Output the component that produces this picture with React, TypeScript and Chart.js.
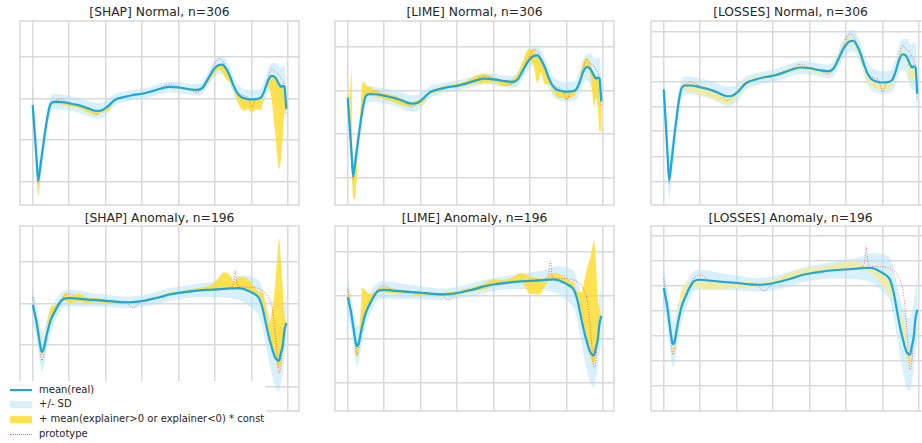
import React, { useEffect, useRef } from "react";
import { Chart, registerables } from "chart.js";

Chart.register(...registerables);

// ---------------- data ----------------
const X_TICKS = [0, 20, 40, 60, 80, 100, 120, 140];
const Y_TICKS_STEP2 = [-4, -2, 0, 2];
const Y_TICKS_STEP1 = [-4, -3, -2, -1, 0, 1, 2];

const PANEL_TITLES = [
  "[SHAP] Normal, n=306",
  "[LIME] Normal, n=306",
  "[LOSSES] Normal, n=306",
  "[SHAP] Anomaly, n=196",
  "[LIME] Anomaly, n=196",
  "[LOSSES] Anomaly, n=196",
];

const LEGEND_LABELS = [
  "mean(real)",
  "+/- SD",
  "+ mean(explainer>0 or explainer<0) * const",
  "prototype",
];

// Normal class
const NORMAL_X = [0, 1, 2, 3, 4, 5, 6, 7, 8, 9, 10, 12, 15, 20, 25, 30, 35, 38, 41, 45, 50, 55, 60, 65, 70, 75, 80, 85, 90, 93, 96, 99, 102, 104, 106, 108, 110, 112, 114, 116, 118, 120, 122, 125, 127, 129, 131, 133, 134, 135, 136, 137, 138, 139];
const NORMAL_MEAN = [-0.33, -1.5, -2.75, -3.95, -3.4, -2.75, -2.1, -1.5, -0.95, -0.5, -0.25, -0.17, -0.17, -0.24, -0.33, -0.47, -0.6, -0.57, -0.4, -0.08, 0.06, 0.16, 0.22, 0.33, 0.46, 0.55, 0.52, 0.45, 0.4, 0.5, 0.92, 1.36, 1.6, 1.62, 1.42, 1.08, 0.62, 0.27, 0.08, 0.0, -0.04, -0.05, -0.04, 0.03, 0.36, 0.85, 1.08, 1.0, 0.85, 0.68, 0.55, 0.6, 0.55, -0.5];
const NORMAL_SD = [0.8, 0.8, 0.8, 0.7, 0.7, 0.6, 0.55, 0.5, 0.45, 0.4, 0.38, 0.36, 0.35, 0.35, 0.36, 0.37, 0.38, 0.37, 0.33, 0.28, 0.25, 0.24, 0.24, 0.24, 0.25, 0.26, 0.26, 0.26, 0.27, 0.3, 0.35, 0.4, 0.42, 0.42, 0.42, 0.42, 0.42, 0.44, 0.45, 0.45, 0.45, 0.45, 0.45, 0.45, 0.5, 0.55, 0.6, 0.7, 0.78, 0.85, 0.9, 0.95, 1.0, 1.0];
const NORMAL_PROTO = [-0.35, -1.55, -2.85, -4.1, -3.45, -2.8, -2.1, -1.5, -0.9, -0.45, -0.2, -0.12, -0.02, -0.2, -0.3, -0.42, -0.78, -0.55, -0.35, -0.05, 0.08, 0.15, 0.25, 0.35, 0.5, 0.68, 0.55, 0.45, 0.28, 0.5, 1.0, 1.5, 1.9, 1.8, 1.48, 1.1, 0.7, 0.32, 0.18, 0.12, 0.02, -0.42, -0.08, 0.08, 0.4, 1.0, 1.45, 1.25, 1.2, 1.15, 0.95, 0.85, 0.55, -0.75];

const SHAP_N_UP = [0, 0, 0, 0, 0, 0.2, 0.3, 0.3, 0.25, 0.1, 0, 0.05, 0.05, 0, 0, 0, 0.02, 0.05, 0, 0, 0, 0.03, 0, 0.03, 0, 0.05, 0, 0, 0, 0, 0, 0, 0, 0, 0, 0, 0, 0, 0, 0, 0, 0, 0, 0, 0, 0, 0, 0, 0, 0, 0, 0, 0, 0];
const SHAP_N_LO = [0, 0, -0.2, -0.7, -0.4, 0, 0, 0, 0, 0, -0.1, -0.1, -0.12, -0.15, -0.12, -0.2, -0.2, -0.1, -0.25, -0.05, -0.05, -0.03, -0.05, -0.03, -0.05, -0.05, -0.05, -0.05, -0.08, -0.12, -0.2, -0.25, -0.2, -0.4, -0.5, -0.3, -0.15, -0.35, -0.55, -0.6, -0.45, -0.65, -0.5, -0.6, -0.2, -0.3, -1.2, -2.8, -3.6, -4.1, -3.5, -2.5, -1.2, 0];
const LIME_N_UP = [0.3, 1.2, 3.7, 0.5, 0, 0, 0.2, 0.6, 1.3, 0.9, 0.5, 0.35, 0.2, 0.1, 0.12, 0.08, 0.05, 0.12, 0.05, 0.05, 0.08, 0.1, 0.1, 0.12, 0.2, 0.2, 0.1, 0.05, 0.12, 0.3, 0.45, 0.55, 0.3, 0, 0, 0, 0, 0, 0, 0, 0, 0, 0, 0.05, 0.2, 0.4, 0.45, 0.25, 0.15, 0.1, 0.1, 0, 0, 0];
const LIME_N_LO = [-0.2, 0, 0, -1.0, -1.6, -1.2, -0.3, 0, 0, 0, 0, -0.05, -0.1, -0.15, -0.2, -0.22, -0.15, -0.1, -0.2, -0.1, -0.1, -0.05, -0.08, -0.1, -0.15, -0.2, -0.15, -0.25, -0.15, 0, 0, 0, -0.5, -1.3, -0.6, -0.8, -0.3, -0.2, -0.3, -0.35, -0.3, -0.4, -0.3, -0.2, 0, 0, 0, -0.3, -0.9, -1.4, -0.9, -1.4, -2.4, -1.4];
const LOSSES_N_UP = [0, 0, 0, 0, 0, 0, 0, 0, 0, 0, 0.1, 0.12, 0.12, 0.1, 0.08, 0.05, 0.05, 0.08, 0.12, 0.12, 0.1, 0.08, 0.08, 0.1, 0.1, 0.1, 0.08, 0.05, 0.08, 0.15, 0.22, 0.22, 0.15, 0.05, 0, 0, 0, 0, 0, 0, 0, 0, 0, 0.05, 0.2, 0.25, 0.15, 0, 0, 0, 0, 0, 0, 0];
const LOSSES_N_LO = [0, 0, 0, 0, 0, 0, 0, 0, 0, 0, -0.1, -0.2, -0.25, -0.28, -0.3, -0.32, -0.33, -0.25, -0.15, -0.1, -0.08, -0.08, -0.08, -0.08, -0.1, -0.1, -0.12, -0.12, -0.12, -0.05, 0, 0, -0.05, -0.15, -0.25, -0.3, -0.3, -0.3, -0.28, -0.28, -0.28, -0.28, -0.28, -0.2, 0, 0, -0.05, -0.3, -0.45, -0.55, -0.6, -0.5, -0.4, 0];

// Anomaly class
const ANOMALY_X = [0, 1, 2, 3, 4, 5, 6, 7, 8, 10, 12, 14, 16, 18, 20, 25, 30, 35, 40, 45, 50, 55, 60, 65, 70, 75, 80, 85, 90, 95, 100, 105, 108, 110, 111, 112, 114, 116, 118, 120, 122, 124, 126, 128, 130, 131, 132, 133, 134, 135, 136, 137, 138, 139];
const ANOMALY_MEAN = [-0.08, -0.45, -0.85, -1.4, -1.95, -2.33, -2.2, -1.8, -1.4, -0.78, -0.42, -0.1, 0.15, 0.24, 0.25, 0.22, 0.18, 0.15, 0.12, 0.08, 0.05, 0.06, 0.11, 0.2, 0.3, 0.42, 0.5, 0.56, 0.61, 0.64, 0.67, 0.69, 0.71, 0.72, 0.72, 0.73, 0.72, 0.68, 0.6, 0.52, 0.42, 0.25, -0.25, -1.05, -1.8, -2.1, -2.4, -2.62, -2.72, -2.75, -2.4, -2.05, -1.3, -0.95];
const ANOMALY_SD = [0.8, 0.8, 0.8, 0.85, 0.9, 0.9, 0.85, 0.8, 0.7, 0.6, 0.5, 0.45, 0.4, 0.4, 0.4, 0.38, 0.35, 0.32, 0.3, 0.28, 0.27, 0.27, 0.28, 0.28, 0.3, 0.3, 0.3, 0.3, 0.32, 0.35, 0.38, 0.42, 0.45, 0.5, 0.52, 0.55, 0.6, 0.65, 0.7, 0.75, 0.8, 0.85, 0.95, 1.05, 1.2, 1.28, 1.35, 1.4, 1.45, 1.45, 1.4, 1.35, 1.3, 1.3];
const ANOMALY_PROTO = [0.3, -0.2, -0.8, -1.5, -2.2, -2.75, -2.5, -2.0, -1.5, -0.8, -0.3, 0.0, 0.25, 0.4, 0.45, 0.22, 0.2, 0.17, 0.15, 0.1, 0.1, -0.2, 0.1, 0.2, 0.3, 0.45, 0.5, 0.5, 0.6, 0.65, 0.62, 0.7, 0.75, 0.9, 1.57, 0.9, 0.78, 0.78, 0.77, 0.77, 0.75, 0.7, 0.6, 0.45, 0.15, -0.1, -0.7, -1.5, -2.5, -3.35, -3.0, -2.0, -1.3, -0.95];

const SHAP_A_UP = [0, 0.1, 0.3, 0.5, 0.5, 0.2, 0.2, 0.3, 0.4, 0.6, 0.3, 0.15, 0.1, 0.3, 0.1, 0.25, 0.1, 0.1, 0.05, 0.05, 0.03, 0.05, 0.05, 0.08, 0.08, 0.1, 0.05, 0.1, 0.12, 0.15, 0.35, 0.8, 0.65, 0.35, 0.3, 0.5, 0.55, 0.6, 0.55, 0.45, 0.3, 0.3, 0.8, 0.8, 0.8, 1.7, 2.56, 3.74, 4.88, 5.87, 4.48, 2.85, 0.66, 0];
const SHAP_A_LO = [0, 0, 0, 0, 0, -0.2, -0.1, 0, 0, 0, 0, 0, -0.05, -0.1, -0.25, -0.15, -0.2, -0.1, -0.12, -0.1, -0.05, -0.05, -0.03, -0.05, -0.05, -0.05, -0.05, -0.05, -0.03, -0.05, -0.08, 0, 0, 0, 0, 0, 0, 0, 0, 0, 0, 0, 0, 0, 0, 0, 0, 0, -0.3, -0.4, -0.4, -0.4, -0.2, 0];
const LIME_A_UP = [0.45, 0.3, 0.2, 0.15, 0.05, 0, 0, 0.8, 1.75, 1.0, 0.5, 0.2, 0.1, 0.12, 0.15, 0.1, 0.08, 0.05, 0.05, 0.05, 0.05, 0.08, 0.08, 0.1, 0.12, 0.12, 0.25, 0.15, 0.2, 0.4, 0.2, 0.1, 0.05, 0.2, 0.25, 0.3, 0.3, 0.3, 0.28, 0.25, 0.25, 0.3, 0.4, 1.2, 2.6, 3.25, 3.9, 4.37, 4.9, 5.27, 4.0, 2.05, 0.7, 0];
const LIME_A_LO = [0, 0, 0, 0, -0.3, -0.5, -0.3, 0, 0, 0, 0, 0, -0.05, -0.1, -0.12, -0.12, -0.12, -0.1, -0.12, -0.1, -0.1, -0.08, -0.08, -0.08, -0.1, -0.15, -0.05, -0.05, -0.05, 0, -0.6, -0.65, -0.3, -0.1, 0, 0, 0, 0, 0, 0, 0, 0, 0, 0, 0, 0, 0, -0.2, -0.35, -0.4, -0.35, -0.2, 0, 0];
const LOSSES_A_UP = [0, 0.2, 0.3, 0.3, 0.25, 0.1, 0.1, 0.3, 0.5, 0.7, 0.45, 0.25, 0.05, 0, 0, 0, 0, 0.02, 0.05, 0.08, 0.1, 0.12, 0.15, 0.2, 0.25, 0.25, 0.22, 0.2, 0.22, 0.25, 0.28, 0.28, 0.2, 0.1, 0.05, 0, 0, 0, 0, 0, 0, 0, 0, 0.22, 0.64, 0.75, 0.84, 0.5, 0.16, 0.15, 0.15, 0.3, 0.3, 0];
const LOSSES_A_LO = [0, 0, 0, 0, -0.2, -0.4, -0.35, -0.1, 0, 0, 0, -0.05, -0.15, -0.3, -0.35, -0.35, -0.3, -0.25, -0.2, -0.15, -0.1, -0.05, 0, 0, 0, 0, 0, 0, 0, 0, 0, 0, 0, -0.05, -0.1, -0.15, -0.2, -0.3, -0.4, -0.5, -0.57, -0.6, -0.31, 0, 0, 0, 0, -0.2, -0.4, -0.4, -0.35, -0.2, 0, 0];

// ---------------- styles / layout ----------------
const BLUE = "#1ba8de";
const SD_FILL = "rgba(175, 226, 247, 0.5)";
const YELLOW_STRONG = "rgba(255, 221, 51, 0.85)";
const YELLOW_PALE = "rgba(244, 236, 158, 0.9)";
const PROTO_RED = "rgba(225, 95, 95, 0.85)";
const GRID = "#d9d9d9";
const TEXT = "#262626";
const FONT = '"DejaVu Sans", Verdana, sans-serif';
const PAD = 3;

type PanelSpec = {
  kind: "normal" | "anomaly";
  up: number[];
  lo: number[];
  yellow: string;
  yTicks: number[];
  yMin: number;
  yMax: number;
  left: number;
  top: number;
  w: number;
  h: number;
};

const PANELS: PanelSpec[] = [
  { kind: "normal", up: SHAP_N_UP, lo: SHAP_N_LO, yellow: YELLOW_STRONG, yTicks: Y_TICKS_STEP2, yMin: -5.12, yMax: 3.71, left: 20, top: 21, w: 279, h: 184 },
  { kind: "normal", up: LIME_N_UP, lo: LIME_N_LO, yellow: YELLOW_STRONG, yTicks: Y_TICKS_STEP2, yMin: -5.28, yMax: 3.21, left: 335, top: 21, w: 279, h: 184 },
  { kind: "normal", up: LOSSES_N_UP, lo: LOSSES_N_LO, yellow: YELLOW_PALE, yTicks: Y_TICKS_STEP1, yMin: -4.95, yMax: 2.41, left: 651, top: 21, w: 279, h: 184 },
  { kind: "anomaly", up: SHAP_A_UP, lo: SHAP_A_LO, yellow: YELLOW_STRONG, yTicks: Y_TICKS_STEP2, yMin: -5.17, yMax: 3.71, left: 20, top: 226, w: 279, h: 185 },
  { kind: "anomaly", up: LIME_A_UP, lo: LIME_A_LO, yellow: YELLOW_STRONG, yTicks: Y_TICKS_STEP2, yMin: -5.3, yMax: 3.18, left: 335, top: 226, w: 279, h: 185 },
  { kind: "anomaly", up: LOSSES_A_UP, lo: LOSSES_A_LO, yellow: YELLOW_PALE, yTicks: Y_TICKS_STEP1, yMin: -5.0, yMax: 2.4, left: 651, top: 226, w: 279, h: 185 },
];

const spinePlugin = {
  id: "spines",
  afterDatasetsDraw(chart: any) {
    const { ctx, chartArea: a } = chart;
    ctx.save();
    ctx.strokeStyle = GRID;
    ctx.lineWidth = 1.5;
    ctx.strokeRect(a.left, a.top, a.right - a.left, a.bottom - a.top);
    ctx.restore();
  },
};

function toPoints(xs: number[], ys: number[]) {
  return xs.map((x, i) => ({ x, y: ys[i] }));
}
function offsetPoints(xs: number[], base: number[], off: number[], sign = 1) {
  return xs.map((x, i) => ({ x, y: base[i] + sign * off[i] }));
}

function buildConfig(p: PanelSpec): any {
  const X = p.kind === "normal" ? NORMAL_X : ANOMALY_X;
  const M = p.kind === "normal" ? NORMAL_MEAN : ANOMALY_MEAN;
  const S = p.kind === "normal" ? NORMAL_SD : ANOMALY_SD;
  const P = p.kind === "normal" ? NORMAL_PROTO : ANOMALY_PROTO;
  const common = {
    pointRadius: 0,
    pointHoverRadius: 0,
    cubicInterpolationMode: "monotone",
  };
  return {
    type: "line",
    data: {
      datasets: [
        { ...common, label: LEGEND_LABELS[0], data: toPoints(X, M), borderColor: BLUE, borderWidth: 2.2, fill: false, order: 0 },
        { ...common, label: LEGEND_LABELS[3], data: toPoints(X, P), borderColor: PROTO_RED, borderWidth: 1, borderDash: [1, 1.6], fill: false, order: 1 },
        { ...common, label: "yellow-top", data: offsetPoints(X, M, p.up), borderColor: "transparent", borderWidth: 0, fill: false, order: 2 },
        { ...common, label: LEGEND_LABELS[2], data: offsetPoints(X, M, p.lo), borderColor: "transparent", borderWidth: 0, backgroundColor: p.yellow, fill: 2, order: 2 },
        { ...common, label: "sd-top", data: offsetPoints(X, M, S, 1), borderColor: "transparent", borderWidth: 0, fill: false, order: 3 },
        { ...common, label: LEGEND_LABELS[1], data: offsetPoints(X, M, S, -1), borderColor: "transparent", borderWidth: 0, backgroundColor: SD_FILL, fill: 4, order: 3 },
      ],
    },
    options: {
      responsive: false,
      maintainAspectRatio: false,
      animation: false,
      devicePixelRatio: 1,
      events: [],
      layout: { padding: PAD },
      plugins: { legend: { display: false }, tooltip: { enabled: false }, title: { display: false } },
      scales: {
        x: {
          type: "linear",
          min: -6.95,
          max: 145.95,
          afterBuildTicks: (ax: any) => {
            ax.ticks = X_TICKS.map((v) => ({ value: v }));
          },
          ticks: { display: false },
          grid: { color: GRID, lineWidth: 1.5, drawTicks: false },
          border: { display: false },
        },
        y: {
          type: "linear",
          min: p.yMin,
          max: p.yMax,
          afterBuildTicks: (ax: any) => {
            ax.ticks = p.yTicks.map((v) => ({ value: v }));
          },
          ticks: { display: false },
          grid: { color: GRID, lineWidth: 1.5, drawTicks: false },
          border: { display: false },
        },
      },
    },
    plugins: [spinePlugin],
  };
}

export default function App() {
  const refs = useRef<(HTMLCanvasElement | null)[]>([]);

  useEffect(() => {
    const charts = PANELS.map((p, i) => new Chart(refs.current[i] as HTMLCanvasElement, buildConfig(p)));
    return () => charts.forEach((c) => c.destroy());
  }, []);

  const legendRows = [
    { label: LEGEND_LABELS[0], y: 390, kind: "line" },
    { label: LEGEND_LABELS[1], y: 404, kind: "sd" },
    { label: LEGEND_LABELS[2], y: 419, kind: "yellow" },
    { label: LEGEND_LABELS[3], y: 434, kind: "proto" },
  ];

  return (
    <div style={{ position: "absolute", left: 0, top: 0, width: 922, height: 443, overflow: "hidden", background: "#fff", fontFamily: FONT }}>
      {PANELS.map((p, i) => (
        <React.Fragment key={i}>
          <div
            style={{
              position: "absolute",
              left: p.left,
              top: p.top < 100 ? 5 : 211,
              width: p.w,
              textAlign: "center",
              fontSize: 12.3,
              lineHeight: "14px",
              color: TEXT,
              whiteSpace: "nowrap",
            }}
          >
            {PANEL_TITLES[i]}
          </div>
          <canvas
            ref={(el) => {
              refs.current[i] = el;
            }}
            width={p.w + 2 * PAD}
            height={p.h + 2 * PAD}
            style={{ position: "absolute", left: p.left - PAD, top: p.top - PAD, width: p.w + 2 * PAD, height: p.h + 2 * PAD }}
          />
        </React.Fragment>
      ))}
      <div style={{ position: "absolute", left: 0, top: 381, width: 266, height: 62, background: "#fff" }} />
      {legendRows.map((r) => (
        <React.Fragment key={r.label}>
          {r.kind === "line" && <div style={{ position: "absolute", left: 10, top: r.y - 1, width: 22, height: 2, background: BLUE }} />}
          {r.kind === "sd" && <div style={{ position: "absolute", left: 10, top: r.y - 3.5, width: 22, height: 7, background: SD_FILL }} />}
          {r.kind === "yellow" && <div style={{ position: "absolute", left: 10, top: r.y - 3.5, width: 22, height: 7, background: YELLOW_STRONG }} />}
          {r.kind === "proto" && <div style={{ position: "absolute", left: 10, top: r.y, width: 22, height: 0, borderTop: `1px dotted ${PROTO_RED}` }} />}
          <div style={{ position: "absolute", left: 39, top: r.y - 7, fontSize: 10, lineHeight: "14px", color: TEXT, whiteSpace: "nowrap" }}>{r.label}</div>
        </React.Fragment>
      ))}
    </div>
  );
}
